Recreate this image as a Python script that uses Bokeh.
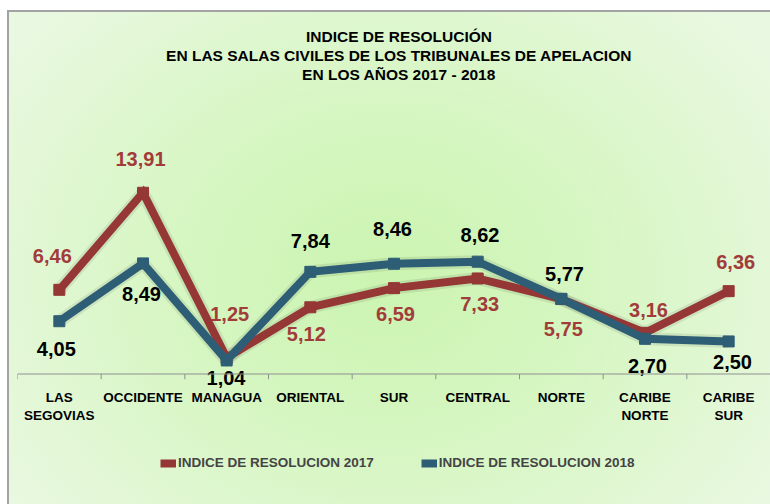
from bokeh.plotting import figure
from bokeh.models import ColumnDataSource, Span, Label, Legend, LegendItem
from bokeh.transform import dodge
from bokeh.core.properties import value
from bokeh.embed import file_html
from bokeh.resources import INLINE

# ---- data ----
categories = ["LAS\nSEGOVIAS", "OCCIDENTE", "MANAGUA", "ORIENTAL", "SUR",
              "CENTRAL", "NORTE", "CARIBE\nNORTE", "CARIBE\nSUR"]
idx_2017 = [6.46, 13.91, 1.25, 5.12, 6.59, 7.33, 5.75, 3.16, 6.36]
idx_2018 = [4.05, 8.49, 1.04, 7.84, 8.46, 8.62, 5.77, 2.70, 2.50]
series_names = ["INDICE DE RESOLUCION 2017", "INDICE DE RESOLUCION 2018"]
title_lines = ["INDICE DE RESOLUCIÓN",
               "EN LAS SALAS CIVILES DE LOS TRIBUNALES DE APELACION",
               "EN LOS AÑOS 2017 - 2018"]

# label placement tweaks (pixels)
off17_x = [-7, -2.5, 3, -4, 1.5, 2, 2, 3.5, 7]
off17_y = [-34, -34, -44, 27, 26, 25.5, 30, -23, -29]
off18_x = [-3, -1.5, -0.7, 0, -1.5, 2.3, 3.2, 2.5, 3.8]
off18_y = [28, 30.5, 17.5, -31, -35, -26.5, -25, 27, 20.5]

fmt = lambda v: f"{v:.2f}".replace(".", ",")

src = ColumnDataSource(dict(
    cat=categories, v17=idx_2017, v18=idx_2018,
    t17=[fmt(v) for v in idx_2017], t18=[fmt(v) for v in idx_2018],
    ox17=off17_x, oy17=off17_y, ox18=off18_x, oy18=off18_y,
    zero=[0] * len(categories), tick=[-0.4] * len(categories),
))

RED = "#953735"
BLUE = "#2d5e75"
FONT = "Liberation Sans"
PX_PER_UNIT = 13.03
FRAME_BOTTOM = 470
ZERO_Y = 373.5

p = figure(x_range=categories,
           y_range=(-(FRAME_BOTTOM - ZERO_Y) / PX_PER_UNIT, ZERO_Y / PX_PER_UNIT),
           width=770, height=504,
           output_backend="svg", toolbar_location=None, y_axis_location=None,
           min_border_left=17, min_border_right=0, min_border_top=0,
           min_border_bottom=504 - FRAME_BOTTOM)
p.background_fill_alpha = 0
p.border_fill_alpha = 0
p.outline_line_color = None
p.grid.visible = False
p.styles = {
    "background": (
        "linear-gradient(#ffffff,#ffffff) 0 0 / 7px 100% no-repeat, "
        "linear-gradient(#ffffff,#ffffff) 0 0 / 100% 10px no-repeat, "
        "linear-gradient(#a3a3a3,#a3a3a3) 7px 10px / 2px 100% no-repeat, "
        "linear-gradient(#a3a3a3,#a3a3a3) 7px 10px / 100% 2px no-repeat, "
        "radial-gradient(ellipse 60% 75% at 50% 55%, #cbf4b0 0%, #d6f6c2 45%, #e9f8e0 100%)"
    ),
}

ax = p.xaxis[0]
ax.fixed_location = -(389 - ZERO_Y) / PX_PER_UNIT
ax.axis_line_color = None
ax.major_tick_line_color = None
ax.major_tick_in = 0
ax.major_tick_out = 0
ax.major_label_standoff = 0
ax.major_label_text_font = FONT
ax.major_label_text_font_style = "bold"
ax.major_label_text_font_size = "13.5px"
ax.major_label_text_color = "#000000"

# axis baseline and category boundary ticks
p.add_layout(Span(location=0, dimension="width", line_color="#8f8f8f", line_width=1.2))
p.segment(x0=dodge("cat", -0.5, range=p.x_range), y0="zero",
          x1=dodge("cat", -0.5, range=p.x_range), y1="tick",
          source=src, line_color="#8f8f8f", line_width=1)

# soft shadows
p.line("cat", "v17", source=src, line_color="#000000", line_width=13, line_alpha=0.08)
p.line("cat", "v18", source=src, line_color="#000000", line_width=13, line_alpha=0.08)

l17 = p.line("cat", "v17", source=src, line_color=RED, line_width=8, line_join="miter")
s17 = p.scatter("cat", "v17", source=src, marker="square", size=11, color=RED)
l18 = p.line("cat", "v18", source=src, line_color=BLUE, line_width=8, line_join="miter")
s18 = p.scatter("cat", "v18", source=src, marker="square", size=11, color=BLUE)

p.text("cat", "v17", text="t17", source=src, x_offset="ox17", y_offset="oy17",
       text_align="center", text_baseline="middle", text_color="#a23c3a",
       text_font=value(FONT), text_font_style="bold", text_font_size="20px")
p.text("cat", "v18", text="t18", source=src, x_offset="ox18", y_offset="oy18",
       text_align="center", text_baseline="middle", text_color="#000000",
       text_font=value(FONT), text_font_style="bold", text_font_size="20px")

# title lines
for t, py in zip(title_lines, [36, 55, 74]):
    p.add_layout(Label(x=4.56, y=(ZERO_Y - py) / PX_PER_UNIT, text=t,
                       text_align="center", text_baseline="middle",
                       text_font=FONT, text_font_style="bold", text_font_size="15.5px",
                       text_color="#000000"))

legend = Legend(items=[LegendItem(label=series_names[0], renderers=[l17, s17]),
                       LegendItem(label=series_names[1], renderers=[l18, s18])],
                location=(143, 0), orientation="horizontal", spacing=47,
                padding=0, margin=0, border_line_color=None, background_fill_alpha=0,
                glyph_width=16, glyph_height=12, label_height=12, label_standoff=2,
                label_text_font=FONT, label_text_font_style="bold",
                label_text_font_size="13.5px")
p.add_layout(legend)

open("out.html", "w").write(file_html(p, INLINE))
